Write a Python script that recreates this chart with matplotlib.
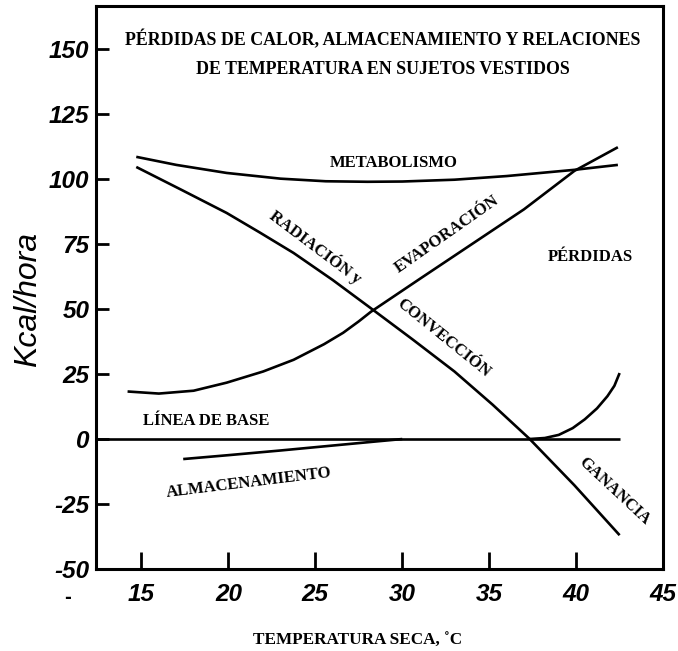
import matplotlib
matplotlib.use("Agg")
import matplotlib.pyplot as plt
from matplotlib.font_manager import FontProperties

# curves (temperature in C, Kcal/hora)
metab_x = [14.7, 17.0, 19.9, 23.0, 25.6, 28.0, 30.0, 33.0, 36.0, 39.9, 42.4]
metab_y = [108.6, 105.5, 102.4, 100.2, 99.2, 99.0, 99.1, 99.8, 101.2, 103.6, 105.5]

rad_x = [14.7, 17.3, 19.9, 21.8, 23.75, 26.0, 28.2, 30.6, 33.0, 35.2, 37.3, 39.9, 42.5]
rad_y = [104.7, 95.9, 87.0, 79.5, 71.6, 61.2, 50.3, 38.3, 26.0, 13.2, 0.2, -17.8, -37.0]

evap_x = [14.2, 16.0, 18.0, 19.9, 22.0, 23.75, 25.5, 26.6, 27.5, 28.2, 31.0, 34.0, 37.0, 39.9, 42.4]
evap_y = [18.3, 17.5, 18.6, 21.7, 26.0, 30.5, 36.5, 40.9, 45.3, 49.0, 61.6, 75.0, 88.4, 103.2, 112.3]

gain_x = [37.3, 38.2, 39.0, 39.8, 40.5, 41.2, 41.8, 42.2, 42.5]
gain_y = [0.0, 0.4, 1.6, 4.2, 7.6, 11.8, 16.5, 20.5, 25.4]

almac_x = [17.4, 20.0, 23.0, 26.0, 28.7, 30.0]
almac_y = [-7.7, -6.2, -4.4, -2.5, -0.8, 0.0]

base_x = [12.4, 42.5]
base_y = [0, 0]

xticks = [15, 20, 25, 30, 35, 40, 45]
yticks = [-50, -25, 0, 25, 50, 75, 100, 125, 150]
ytick_labels = ["-50", "-25", "0", "25", "50", "75", "100", "125", "150"]

fig = plt.figure(figsize=(6.78, 6.51), dpi=100)
ax = fig.add_axes([0.142, 0.126, 0.836, 0.865])

lw = 1.9
for xs, ys in [(metab_x, metab_y), (rad_x, rad_y), (evap_x, evap_y),
               (gain_x, gain_y), (almac_x, almac_y), (base_x, base_y)]:
    ax.plot(xs, ys, color="black", lw=lw, solid_capstyle="butt",
            solid_joinstyle="round")

ax.set_xlim(12.4, 45)
ax.set_ylim(-50, 166.7)

for s in ax.spines.values():
    s.set_linewidth(2.2)

ax.set_xticks(xticks)
ax.set_yticks(yticks)
ax.set_yticklabels(ytick_labels)
ax.tick_params(axis="y", direction="in", length=9, width=2, pad=5)
ax.tick_params(axis="x", direction="in", length=12, width=2, pad=10)
hand = ["Liberation Sans", "DejaVu Sans"]
tick_fp = FontProperties(family=hand, style="italic", weight="bold", size=17.5)
for lab in ax.get_xticklabels() + ax.get_yticklabels():
    lab.set_fontproperties(tick_fp)

ax.set_ylabel("Kcal/hora", fontproperties=FontProperties(
    family=hand, style="italic", size=23), va="center")
ax.yaxis.set_label_coords(-0.12, 0.478)

serif = "Liberation Serif"
fig.text(0.528, 0.015, "TEMPERATURA SECA, ˚C", family=serif, weight="bold",
         size=12.3, ha="center", va="center")

txt = dict(family=serif, weight="bold", size=12, ha="center", va="center")
ax.text(28.9, 153.6, "PÉRDIDAS DE CALOR, ALMACENAMIENTO Y RELACIONES",
        **dict(txt, size=12.9))
ax.text(28.9, 142.4, "DE TEMPERATURA EN SUJETOS VESTIDOS", **dict(txt, size=12.9))
ax.text(29.5, 106.4, "METABOLISMO", **txt)
ax.text(25.0, 74.0, "RADIACIÓN y", rotation=-37, **txt)
ax.text(32.6, 78.6, "EVAPORACIÓN", rotation=35, **txt)
ax.text(32.35, 38.8, "CONVECCIÓN", rotation=-39, **txt)
ax.text(40.8, 70.2, "PÉRDIDAS", **txt)
ax.text(18.7, 6.8, "LÍNEA DE BASE", **txt)
ax.text(21.2, -16.9, "ALMACENAMIENTO", rotation=7, **txt)
ax.text(42.2, -20.1, "GANANCIA", rotation=-43, **txt)

# stray mark from the scan
fig.text(0.099, 0.081, "-", size=12, weight="bold", ha="center", va="center")

fig.savefig("out.png", dpi=100)
